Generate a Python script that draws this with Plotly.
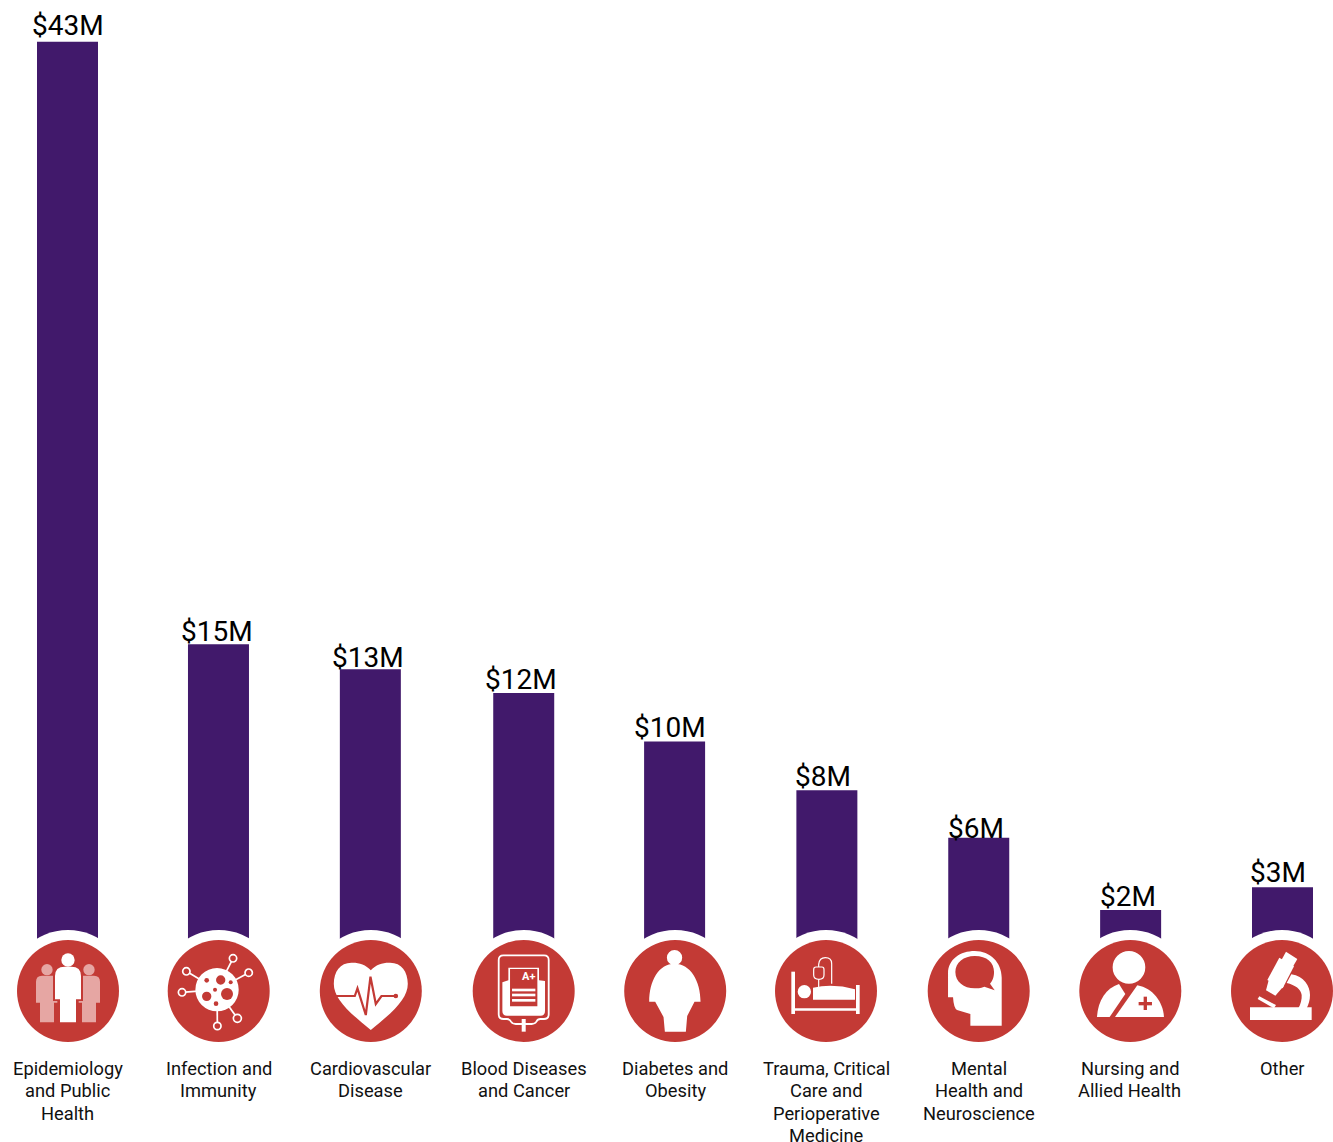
import plotly.graph_objects as go

# ---- data ----
categories = ["Epidemiology", "Infection", "Cardiovascular", "Blood", "Diabetes",
              "Trauma", "Mental", "Nursing", "Other"]
category_lines = [
    ["Epidemiology", "and Public", "Health"],
    ["Infection and", "Immunity"],
    ["Cardiovascular", "Disease"],
    ["Blood Diseases", "and Cancer"],
    ["Diabetes and", "Obesity"],
    ["Trauma, Critical", "Care and", "Perioperative", "Medicine"],
    ["Mental", "Health and", "Neuroscience"],
    ["Nursing and", "Allied Health"],
    ["Other"],
]
funding_millions = [42.5, 14.6, 13.45, 12.35, 10.1, 7.85, 5.65, 2.3, 3.35]
value_labels = ["$43M", "$15M", "$13M", "$12M", "$10M", "$8M", "$6M", "$2M", "$3M"]

# ---- styling / layout ----
W, H = 1333, 1142
PURPLE = "#41196B"
RED = "#C33A35"
PINK = "#E6A6A3"
WHITE = "#FFFFFF"
FONT = "Roboto"
label_dx = [0, -2.5, -3, -2.5, -5, -3.5, -2.5, -2.5, -4.5]
label_dy = [-1, -5, -6, -4, -3, -4, -8, -4, -3]
bar_nudge_px = [0, -0.9, -0.9, 0.6, -0.4, 0, 0, 0, 0]
text_dx = [0, -0.7, -0.7, 0.4, 0, -0.7, 0, -0.7, 0]
icon_cx = [68, 218.7, 370.8, 523.7, 675.2, 826, 978.7, 1130.3, 1282]
ICON_CY = 991
RING_R, DISC_R = 61, 51
STEP = 151.875
X0 = 67.5
PX_PER_M = 21.6
BASE_PX = 959.7

shapes = []
annotations = []


def circle(cx, cy, r, fill, line=None, lw=0):
    shapes.append(dict(type="circle", xref="x2", yref="y2", x0=cx - r, x1=cx + r,
                       y0=cy - r, y1=cy + r, fillcolor=fill, layer="above",
                       line=dict(color=line or fill, width=lw)))


def path(d, fill=None, line=None, lw=0):
    sh = dict(type="path", xref="x2", yref="y2", path=d, layer="above",
              line=dict(color=line or "rgba(0,0,0,0)", width=lw))
    sh["fillcolor"] = fill if fill else "rgba(0,0,0,0)"
    shapes.append(sh)


class Icon:

    def __init__(self, cx, cy):
        self.cx, self.cy = cx, cy

    def X(self, x):
        return self.cx + x / 3

    def Y(self, y):
        return self.cy + y / 3

    def c(self, x, y, r, fill=WHITE, line=None, lw=0):
        circle(self.X(x), self.Y(y), r / 3, fill, line, lw)

    def p(self, cmds, fill=WHITE, line=None, lw=0):
        out = []
        for cmd in cmds:
            letter, nums = cmd[0], cmd[1:]
            pts = []
            for i in range(0, len(nums), 2):
                pts.append(f"{self.X(nums[i]):.2f},{self.Y(nums[i + 1]):.2f}")
            out.append(letter + " ".join(pts))
        path(" ".join(out) + (" Z" if fill else ""), fill, line, lw)

    def poly(self, pts, fill=WHITE):
        self.p([("M", *pts[0])] + [("L", *q) for q in pts[1:]], fill)

    def rect(self, x0, y0, x1, y1, fill=WHITE):
        self.poly([(x0, y0), (x1, y0), (x1, y1), (x0, y1)], fill)

    def line(self, pts, color=WHITE, lw=1.7):
        self.p([("M", *pts[0])] + [("L", *q) for q in pts[1:]], None, color, lw)


def people(k):
    for s in (-1, 1):
        k.c(s * 63, -64, 17, PINK)
        k.p([("M", s * 96, 35), ("L", s * 96, -28), ("Q", s * 96, -46, s * 78, -46),
             ("L", s * 45, -46), ("L", s * 45, 30), ("L", s * 32, 30), ("L", s * 32, 35),
             ("L", s * 42, 35), ("L", s * 42, 94), ("L", s * 84, 94), ("L", s * 84, 35)], PINK)
    k.c(0, -93, 20)
    k.p([("M", -39, 25), ("L", -39, -45), ("Q", -39, -73, -10, -73), ("L", 10, -73),
         ("Q", 39, -73, 39, -45), ("L", 39, 25), ("L", 24, 25), ("L", 24, 94),
         ("L", -24, 94), ("L", -24, 25)])


def virus(k):
    rings = [(43, -98, 11), (90, -55, 11), (-97, -59, 11), (-110, 4, 11), (56, 82, 12), (-4, 105, 11)]
    for x, y, r in rings:
        k.line([(-5, -4), (x, y)], WHITE, 1.7)
    for x, y, r in rings:
        k.c(x, y, r, RED, WHITE, 1.7)
    k.c(-5, -4, 65)
    for x, y, r in [(6, -33, 14), (-36, -32, 7), (36, -26, 6), (-11, -4, 6),
                    (25, 9, 18), (-36, 16, 14), (-8, 38, 7)]:
        k.c(x, y, r, RED)


def heart(k):
    k.p([("M", 0, -62), ("C", -15, -80, -38, -86, -58, -85), ("C", -92, -85, -111, -58, -111, -22),
         ("C", -111, 22, -70, 60, 0, 117), ("C", 70, 60, 111, 22, 111, -22),
         ("C", 111, -58, 92, -85, 58, -85), ("C", 38, -86, 15, -80, 0, -62)])
    k.line([(-110, 15), (-48, 15), (-40, -8), (-15, 72), (-1, -43), (15, 39), (32, 15), (75, 15)], RED, 2.2)
    k.c(75, 15, 7, RED)


def blood_bag(k):
    k.p([("M", -61, -107), ("L", 61, -107), ("Q", 75, -107, 75, -93), ("L", 75, 70),
         ("Q", 75, 84, 61, 84), ("L", 50, 84), ("Q", 42, 84, 38, 92), ("Q", 34, 99, 24, 99),
         ("L", -24, 99), ("Q", -34, 99, -38, 92), ("Q", -42, 84, -50, 84), ("L", -61, 84),
         ("Q", -75, 84, -75, 70), ("L", -75, -93), ("Q", -75, -107, -61, -107)],
        None, WHITE, 1.8)
    k.p([("M", -64, -26), ("L", -46, -32), ("L", 46, -32), ("L", 64, -30), ("L", 64, 60),
         ("Q", 64, 74, 50, 74), ("L", -50, 74), ("Q", -64, 74, -64, 60)])
    k.rect(-6, 84, 6, 122)
    k.rect(-46, -70, 46, 51, WHITE)
    k.rect(-41, -66, 41, 46, RED)
    for y in (-3, 12, 28):
        k.rect(-35, y - 4, 35, y + 4)
    annotations.append(dict(xref="x2", yref="y2", x=k.X(13), y=k.Y(-45), text="<b>A+</b>",
                            showarrow=False, font=dict(family=FONT, size=11, color=WHITE)))


def obesity(k):
    k.c(-2, -100, 23)
    k.p([("M", -2, -82), ("C", -50, -82, -78, -30, -78, 32), ("L", -60, 32), ("L", -35, 78),
         ("L", -31, 122), ("L", 32, 122), ("L", 36, 75), ("L", 58, 32), ("L", 76, 32),
         ("C", 76, -30, 46, -82, -2, -82)])


def bed(k):
    k.rect(-104, -58, -93, 69)
    k.rect(90, -18, 101, 69)
    k.rect(-93, 52, 90, 59)
    k.c(-65, 2, 20)
    k.p([("M", -39, -10), ("Q", 22, -23, 87, -5), ("L", 87, 26), ("L", -39, 26)])
    k.p([("M", -30, -72), ("L", -12, -72), ("Q", -6, -72, -6, -64), ("L", -6, -48),
         ("Q", -6, -35, -21, -35), ("Q", -37, -35, -37, -48), ("L", -37, -64), ("Q", -37, -72, -30, -72)],
        None, WHITE, 1.2)
    k.line([(-22, -35), (-22, -12)], WHITE, 1.2)
    k.p([("M", -22, -72), ("L", -22, -80), ("Q", -20, -100, -2, -100), ("Q", 17, -100, 17, -82),
         ("L", 17, -22)], None, WHITE, 1.2)


def brain_head(k):
    k.p([("M", -92, 19), ("L", -92, -53), ("C", -92, -95, -55, -120, -12, -120),
         ("C", 35, -120, 69, -85, 69, -40), ("L", 69, 104), ("L", -25, 104), ("L", -25, 69),
         ("L", -65, 57), ("Q", -75, 52, -77, 19)])
    k.p([("M", -12, -105), ("C", 25, -105, 46, -85, 46, -57), ("C", 46, -40, 40, -28, 34, -22),
         ("L", 48, -2), ("L", 17, -13), ("C", 5, -8, -5, -8, -12, -8),
         ("C", -45, -8, -70, -28, -70, -57), ("C", -70, -85, -45, -105, -12, -105)], RED)


def nurse(k):
    k.c(-4, -71, 49)
    k.p([("M", -100, 78), ("C", -97, 27, -72, -8, -34, -21), ("L", -15, 9), ("L", -62, 78)])
    k.p([("M", -46, 78), ("L", 21, -17), ("C", 68, -8, 98, 32, 101, 78)])
    k.rect(40, 17, 50, 57, RED)
    k.rect(25, 33, 65, 43, RED)


def microscope(k):
    k.rect(-96, 49, 89, 87)
    k.poly([(-73, 24), (-68, 16), (-18, 42), (-24, 52)])
    k.p([("M", 28, -50), ("C", 66, -44, 84, -15, 84, 12), ("C", 84, 27, 80, 40, 74, 52),
         ("L", 49, 52), ("C", 56, 40, 60, 25, 59, 12), ("C", 57, -5, 40, -18, 14, -24)])
    k.poly([(-8, -100), (36, -74), (2, -8), (-44, -33)])
    k.poly([(12, -118), (46, -96), (30, -68), (-2, -92)])
    k.poly([(-38, -40), (6, -16), (-20, 14), (-48, -2)])


drawers = [people, virus, heart, blood_bag, obesity, bed, brain_head, nurse, microscope]

# ---- figure ----
fig = go.Figure(go.Bar(x=categories, y=funding_millions, width=61 / STEP,
                       offset=[(-30.5 + d) / STEP for d in bar_nudge_px],
                       marker=dict(color=PURPLE, line=dict(width=0)), hoverinfo="skip"))
# invisible overlay axes so decorations are expressed in page pixels
fig.add_trace(go.Scatter(x=[0, W], y=[0, H], xaxis="x2", yaxis="y2", mode="markers",
                         marker=dict(opacity=0), hoverinfo="skip", showlegend=False))

for i, (value, text) in enumerate(zip(funding_millions, value_labels)):
    annotations.append(dict(xref="x", yref="y", x=categories[i], y=value, text=text,
                            showarrow=False, yanchor="bottom", xanchor="center",
                            xshift=label_dx[i], yshift=label_dy[i], borderpad=0,
                            font=dict(family=FONT, size=28, color="#000000")))
    cx = icon_cx[i]
    circle(cx, ICON_CY, RING_R, WHITE)
    circle(cx, ICON_CY, DISC_R, RED)
    drawers[i](Icon(cx, ICON_CY))
    for j, line_text in enumerate(category_lines[i]):
        annotations.append(dict(xref="x", yref="y2", x=categories[i], y=1068.3 + j * 22.5,
                                xshift=text_dx[i],
                                text=line_text, showarrow=False, yanchor="middle", xanchor="center",
                                font=dict(family=FONT, size=18.3, color="#111111")))

fig.update_layout(
    width=W, height=H, autosize=False,
    margin=dict(l=0, r=0, t=0, b=0, pad=0),
    paper_bgcolor=WHITE, plot_bgcolor=WHITE, showlegend=False,
    xaxis=dict(type="category", categoryorder="array", categoryarray=categories,
               range=[-X0 / STEP, (W - X0) / STEP], visible=False, domain=[0, 1]),
    yaxis=dict(range=[(BASE_PX - H) / PX_PER_M, BASE_PX / PX_PER_M], visible=False, domain=[0, 1]),
    xaxis2=dict(range=[0, W], overlaying="x", visible=False),
    yaxis2=dict(range=[H, 0], overlaying="y", visible=False),
    shapes=shapes, annotations=annotations,
)

fig.write_html("out.html", config=dict(displayModeBar=False),
               post_script="document.body.style.margin='0';document.body.style.overflow='hidden';")
